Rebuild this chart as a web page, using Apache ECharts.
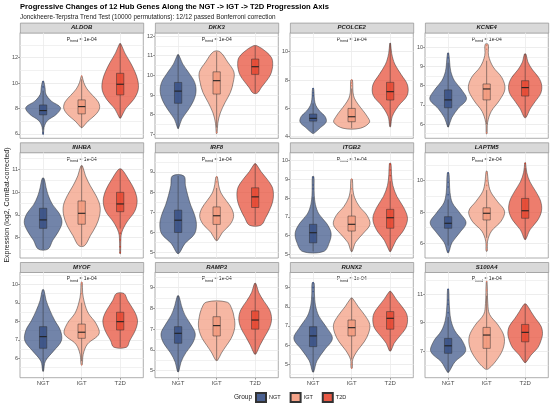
<!DOCTYPE html>
<html>
<head>
<meta charset="utf-8">
<script src="https://cdn.jsdelivr.net/npm/echarts@6/dist/echarts.min.js"></script>
<style>
  html, body { margin: 0; padding: 0; background: #fff; }
  #main { width: 550px; height: 408px; }
</style>
</head>
<body>
<div id="main"></div>
<script>
var genes = ["ALDOB", "DKK3", "PCOLCE2", "KCNE4", "INHBA", "IRF8", "ITGB2", "LAPTM5", "MYOF", "RAMP3", "RUNX2", "S100A4"];
var groups = ["NGT", "IGT", "T2D"];
var pTrend = ["1e-04", "1e-04", "1e-04", "1e-04", "1e-04", "1e-04", "1e-04", "2e-04", "1e-04", "1e-04", "1e-04", "1e-04"];

// y axis range and tick labels per panel
var yMin = [5.66, 6.8, 3.89, 5.26, 7.11, 4.72, 4.8, 5.06, 4.95, 4.66, 4.3, 5.12];
var yMax = [13.96, 12.17, 11.34, 10.76, 11.74, 9.97, 10.44, 11.81, 10.66, 9.75, 9.81, 12.57];
var yTicks = [
  [6, 8, 10, 12], [7, 8, 9, 10, 11, 12], [4, 6, 8, 10], [6, 7, 8, 9, 10],
  [8, 9, 10, 11], [5, 6, 7, 8, 9, 10], [5, 6, 7, 8, 9, 10], [6, 8, 10],
  [6, 7, 8, 9, 10], [5, 6, 7, 8, 9], [5, 6, 7, 8, 9], [7, 9, 11]
];

// violin extent [min, max] per gene, per group (NGT, IGT, T2D)
var violinRange = [
  [[6.0, 10.15], [6.5, 10.55], [7.25, 13.1]],
  [[7.3, 11.05], [7.05, 11.2], [9.1, 11.5]],
  [[4.25, 7.4], [4.6, 8.0], [4.7, 10.6]],
  [[5.85, 9.7], [5.5, 10.15], [6.35, 9.65]],
  [[7.5, 10.6], [7.65, 11.15], [7.3, 11.0]],
  [[4.95, 8.8], [5.6, 8.75], [6.35, 9.4]],
  [[5.15, 9.15], [5.15, 9.0], [5.15, 9.85]],
  [[5.4, 10.5], [5.5, 10.6], [6.25, 11.15]],
  [[5.3, 9.7], [5.65, 10.1], [6.6, 9.5]],
  [[4.95, 8.6], [5.5, 8.3], [5.8, 9.2]],
  [[4.6, 9.25], [4.8, 8.45], [5.7, 8.8]],
  [[5.5, 11.35], [5.75, 11.9], [6.2, 10.3]]
];

// violin full width (in category units) at 9 evenly spaced levels, bottom to top
var violinWidth = [
  [[0.02, 0.05, 0.22, 0.7, 0.9, 0.42, 0.15, 0.1, 0.03], [0.03, 0.33, 0.72, 0.93, 0.86, 0.57, 0.28, 0.11, 0.02], [0.03, 0.28, 0.7, 0.93, 0.92, 0.76, 0.52, 0.24, 0.03]],
  [[0.02, 0.19, 0.52, 0.8, 0.93, 0.86, 0.57, 0.24, 0.03], [0.02, 0.06, 0.19, 0.43, 0.71, 0.86, 0.9, 0.57, 0.17], [0.11, 0.33, 0.57, 0.78, 0.88, 0.91, 0.85, 0.57, 0.11]],
  [[0.05, 0.38, 0.68, 0.62, 0.33, 0.14, 0.07, 0.05, 0.03], [0.45, 0.93, 0.8, 0.57, 0.33, 0.14, 0.07, 0.06, 0.04], [0.02, 0.11, 0.43, 0.88, 0.9, 0.57, 0.24, 0.08, 0.02]],
  [[0.02, 0.19, 0.52, 0.95, 0.71, 0.33, 0.14, 0.08, 0.03], [0.02, 0.05, 0.24, 0.67, 0.95, 0.8, 0.33, 0.1, 0.08], [0.05, 0.24, 0.52, 0.8, 0.86, 0.71, 0.38, 0.14, 0.04]],
  [[0.25, 0.5, 0.8, 0.98, 0.85, 0.5, 0.28, 0.15, 0.05], [0.15, 0.45, 0.75, 0.93, 0.95, 0.75, 0.45, 0.2, 0.04], [0.02, 0.03, 0.08, 0.35, 0.75, 0.88, 0.75, 0.45, 0.08]],
  [[0.05, 0.35, 0.85, 0.95, 0.85, 0.65, 0.5, 0.38, 0.3], [0.05, 0.3, 0.7, 0.88, 0.78, 0.5, 0.22, 0.1, 0.04], [0.3, 0.55, 0.75, 0.9, 0.95, 0.88, 0.62, 0.3, 0.04]],
  [[0.55, 0.85, 0.93, 0.7, 0.3, 0.12, 0.06, 0.05, 0.04], [0.03, 0.2, 0.6, 0.95, 0.8, 0.4, 0.15, 0.06, 0.04], [0.03, 0.3, 0.72, 0.9, 0.7, 0.35, 0.14, 0.07, 0.04]],
  [[0.03, 0.2, 0.6, 0.93, 0.6, 0.22, 0.1, 0.07, 0.04], [0.03, 0.05, 0.25, 0.75, 0.93, 0.55, 0.2, 0.08, 0.03], [0.03, 0.25, 0.65, 0.85, 0.8, 0.55, 0.25, 0.08, 0.02]],
  [[0.02, 0.12, 0.55, 0.95, 0.9, 0.6, 0.35, 0.15, 0.04], [0.03, 0.08, 0.3, 0.9, 0.75, 0.35, 0.15, 0.05, 0.03], [0.33, 0.5, 0.7, 0.85, 0.9, 0.8, 0.6, 0.38, 0.2]],
  [[0.03, 0.15, 0.4, 0.75, 0.89, 0.65, 0.35, 0.17, 0.04], [0.05, 0.25, 0.5, 0.75, 0.9, 0.95, 0.9, 0.8, 0.55], [0.04, 0.25, 0.5, 0.75, 0.85, 0.75, 0.45, 0.18, 0.04]],
  [[0.03, 0.2, 0.6, 1.0, 0.7, 0.3, 0.12, 0.07, 0.05], [0.03, 0.06, 0.3, 0.65, 0.88, 0.94, 0.7, 0.35, 0.04], [0.04, 0.2, 0.5, 0.8, 0.9, 0.85, 0.6, 0.3, 0.04]],
  [[0.03, 0.35, 0.9, 0.75, 0.35, 0.15, 0.08, 0.05, 0.03], [0.1, 0.6, 0.88, 0.9, 0.6, 0.15, 0.06, 0.04, 0.02], [0.04, 0.3, 0.65, 0.82, 0.9, 0.82, 0.55, 0.3, 0.06]]
];

// boxplot [lower whisker, Q1, median, Q3, upper whisker]
var boxStats = [
  [[6.35, 7.5, 7.84, 8.28, 9.4], [6.5, 7.58, 8.15, 8.68, 10.3], [7.25, 9.07, 9.91, 10.77, 13.1]],
  [[7.3, 8.58, 9.2, 9.64, 11.05], [7.35, 9.05, 9.73, 10.18, 11.2], [9.1, 10.05, 10.44, 10.83, 11.5]],
  [[4.3, 5.1, 5.3, 5.6, 6.35], [4.6, 5.06, 5.41, 6.0, 7.4], [4.75, 6.59, 7.18, 7.84, 10.6]],
  [[5.85, 6.85, 7.26, 7.78, 9.2], [6.0, 7.26, 7.83, 8.09, 9.3], [6.35, 7.46, 7.9, 8.26, 9.65]],
  [[7.5, 8.41, 8.78, 9.29, 10.6], [7.65, 8.59, 9.07, 9.61, 11.15], [8.4, 9.14, 9.48, 9.99, 11.0]],
  [[4.95, 5.99, 6.6, 7.1, 8.8], [5.6, 6.39, 6.82, 7.26, 8.2], [6.35, 7.23, 7.76, 8.21, 9.4]],
  [[5.15, 5.61, 6.15, 6.6, 8.05], [5.15, 6.24, 6.6, 7.04, 8.2], [5.15, 6.39, 6.95, 7.4, 8.9]],
  [[5.85, 6.96, 7.28, 7.7, 8.8], [6.35, 7.49, 7.92, 8.27, 9.4], [6.25, 7.6, 8.08, 8.87, 10.8]],
  [[5.3, 6.54, 7.17, 7.71, 9.45], [5.85, 7.08, 7.41, 7.85, 9.0], [6.6, 7.53, 7.98, 8.49, 9.5]],
  [[4.95, 6.32, 6.8, 7.12, 8.6], [5.5, 6.67, 7.17, 7.6, 8.3], [5.8, 7.0, 7.44, 7.88, 9.2]],
  [[4.6, 5.92, 6.48, 6.96, 8.5], [5.25, 6.48, 6.91, 7.31, 8.45], [5.7, 6.83, 7.4, 7.75, 8.8]],
  [[5.5, 6.84, 7.37, 7.89, 9.4], [5.75, 7.19, 8.13, 8.67, 10.9], [6.2, 7.65, 8.32, 8.88, 10.3]]
];

// outlier points
var outliers = [
  [[9.7, 10.1, 6.1, 6.0], [10.55], []],
  [[], [7.1], []],
  [[6.9, 7.1, 7.4], [7.6, 7.8, 8.0], []],
  [[9.45, 9.65], [5.55, 9.9, 10.1], []],
  [[], [], [8.2, 7.9, 7.6, 7.35]],
  [[], [8.5, 8.75], []],
  [[8.5, 8.7, 9.1], [8.5, 9.0], [9.2, 9.5, 9.8]],
  [[9.1, 9.6, 9.9, 10.5, 5.5], [9.7, 10.0, 10.5, 5.6, 5.9], [11.1]],
  [[], [9.5, 10.0, 10.1, 5.65], []],
  [[], [], []],
  [[8.8, 9.0, 9.25], [4.8, 5.0], []],
  [[9.7, 10.3, 10.6, 11.35], [11.3, 11.9], []]
];

var violinFill = ["rgba(60,84,136,0.72)", "rgba(243,155,127,0.72)", "rgba(230,75,53,0.72)"];
var boxFill = ["rgba(60,84,136,0.92)", "rgba(243,155,127,0.92)", "rgba(230,75,53,0.92)"];
var pointColor = ["#3C5488", "#E3826A", "#C8402C"];

var FONT = "Liberation Sans, Arial, Helvetica, sans-serif";
var PANEL_W = 123.3, PANEL_H = 105.6;
var BOX_W = 0.19;

function panelLeft(p) { return 20 + 135 * (p % 4); }
function panelTop(p) { return 32.7 + 119.7 * Math.floor(p / 4); }

function minorLines(p) {
  var t = yTicks[p], step = t[1] - t[0], out = [];
  for (var v = t[0] - step / 2; v <= yMax[p]; v += step / 2) {
    if (v >= yMin[p]) out.push(v);
  }
  return out;
}

function makeRender(p, g) {
  return function (params, api) {
    var x0 = g + 1;
    var r = violinRange[p][g], w = violinWidth[p][g];
    var n = w.length, rightSide = [], leftSide = [];
    for (var k = 0; k < n; k++) {
      var y = r[0] + (r[1] - r[0]) * k / (n - 1);
      rightSide.push(api.coord([x0 + w[k] / 2, y]));
      leftSide.unshift(api.coord([x0 - w[k] / 2, y]));
    }
    var b = boxStats[p][g];
    var pLo = api.coord([x0, b[0]]), pHi = api.coord([x0, b[4]]);
    var q1 = api.coord([x0 - BOX_W / 2, b[1]]), q3 = api.coord([x0 + BOX_W / 2, b[3]]);
    var mL = api.coord([x0 - BOX_W / 2, b[2]]), mR = api.coord([x0 + BOX_W / 2, b[2]]);
    var kids = [
      { type: "polygon", shape: { points: rightSide.concat(leftSide), smooth: 0.35 },
        style: { fill: violinFill[g], stroke: "#333", lineWidth: 0.5 } },
      { type: "line", shape: { x1: pLo[0], y1: pLo[1], x2: pHi[0], y2: pHi[1] },
        style: { stroke: "#333", lineWidth: 0.5 } },
      { type: "rect", shape: { x: q1[0], y: q3[1], width: q3[0] - q1[0], height: q1[1] - q3[1] },
        style: { fill: boxFill[g], stroke: "#333", lineWidth: 0.5 } },
      { type: "line", shape: { x1: mL[0], y1: mL[1], x2: mR[0], y2: mR[1] },
        style: { stroke: "#222", lineWidth: 1.1 } }
    ];
    outliers[p][g].forEach(function (v) {
      var c = api.coord([x0, v]);
      kids.push({ type: "circle", shape: { cx: c[0], cy: c[1], r: 0.8 },
        style: { fill: pointColor[g] } });
    });
    return { type: "group", children: kids };
  };
}

var grids = [], xAxes = [], yAxes = [], series = [], graphics = [];

genes.forEach(function (gene, p) {
  var left = panelLeft(p), top = panelTop(p), bottomRow = p >= 8;
  grids.push({ left: left, top: top, width: PANEL_W, height: PANEL_H,
    show: true, borderColor: "#9a9a9a", borderWidth: 0.8, backgroundColor: "#fff" });
  xAxes.push({
    type: "value", gridIndex: p, min: 0.4, max: 3.6,
    axisLine: { show: false },
    axisTick: { show: bottomRow, customValues: [1, 2, 3], length: 2, lineStyle: { color: "#444", width: 0.5 } },
    axisLabel: { show: bottomRow, customValues: [1, 2, 3], margin: 3, fontSize: 6, color: "#4d4d4d", fontFamily: FONT,
      formatter: function (v) { return groups[Math.round(v) - 1]; } },
    splitLine: { show: true, lineStyle: { color: "#ebebeb", width: 0.8 } }
  });
  var allLines = yTicks[p].concat(minorLines(p));
  yAxes.push({
    type: "value", gridIndex: p, position: "right", min: yMin[p], max: yMax[p],
    axisLine: { show: false },
    axisTick: { show: false, customValues: allLines },
    axisLabel: { show: false },
    splitLine: { show: true, lineStyle: { color: "#ebebeb", width: 0.7 } }
  });
  yAxes.push({
    type: "value", gridIndex: p, position: "left", min: yMin[p], max: yMax[p],
    axisLine: { show: false },
    axisTick: { show: true, customValues: yTicks[p], length: 2, lineStyle: { color: "#444", width: 0.5 } },
    axisLabel: { show: true, customValues: yTicks[p], margin: 2, fontSize: 5.5, color: "#4d4d4d", fontFamily: FONT },
    splitLine: { show: false }
  });
  groups.forEach(function (grp, g) {
    series.push({
      type: "custom", name: grp, xAxisIndex: p, yAxisIndex: 2 * p + 1,
      itemStyle: { color: boxFill[g], borderColor: "#333", borderWidth: 0.5 },
      renderItem: makeRender(p, g),
      data: [[g + 1, boxStats[p][g][2]]],
      silent: true
    });
  });
  // facet strip
  graphics.push({ type: "rect", left: left, top: top - 10,
    shape: { width: PANEL_W, height: 10 },
    style: { fill: "#d9d9d9", stroke: "#9a9a9a", lineWidth: 0.8 } });
  graphics.push({ type: "text", x: left + PANEL_W / 2, y: top - 5,
    style: { text: gene, fontSize: 6, fontWeight: "bold", fontStyle: "italic", fill: "#1a1a1a",
      fontFamily: FONT, align: "center", verticalAlign: "middle" } });
  // trend p-value
  graphics.push({ type: "text", x: left + PANEL_W / 2, y: top + 7,
    style: { text: "{p|P}{s|trend}{p| = " + pTrend[p] + "}", align: "center", verticalAlign: "middle",
      rich: { p: { fontSize: 5, fill: "#222", fontFamily: FONT },
        s: { fontSize: 3.6, fill: "#222", fontFamily: FONT, padding: [3, 0, 0, 0] } } } });
});

graphics.push({ type: "text", x: 7, y: 205, rotation: Math.PI / 2,
  style: { text: "Expression (log2, ComBat-corrected)", fontSize: 7, fill: "#222", fontFamily: FONT,
    align: "center", verticalAlign: "middle" } });
graphics.push({ type: "text", x: 234, y: 397,
  style: { text: "Group", fontSize: 6.5, fill: "#222", fontFamily: FONT, verticalAlign: "middle" } });

var myChart = echarts.init(document.getElementById("main"));
var option = {
  animation: false,
  title: {
    left: 20, top: 3, padding: 0, itemGap: 3,
    text: "Progressive Changes of 12 Hub Genes Along the NGT -> IGT -> T2D Progression Axis",
    textStyle: { fontSize: 7.6, fontWeight: "bold", color: "#000", fontFamily: FONT },
    subtext: "Jonckheere-Terpstra Trend Test (10000 permutations): 12/12 passed Bonferroni correction",
    subtextStyle: { fontSize: 6.4, color: "#222", fontFamily: FONT }
  },
  legend: {
    left: 255, top: 392, padding: 0, itemWidth: 10, itemHeight: 9, itemGap: 9,
    icon: "rect", data: groups,
    textStyle: { fontSize: 5.5, color: "#222", fontFamily: FONT, padding: [0, 0, 0, -2] }
  },
  grid: grids,
  xAxis: xAxes,
  yAxis: yAxes,
  series: series,
  graphic: graphics
};
option && myChart.setOption(option);
</script>
</body>
</html>
